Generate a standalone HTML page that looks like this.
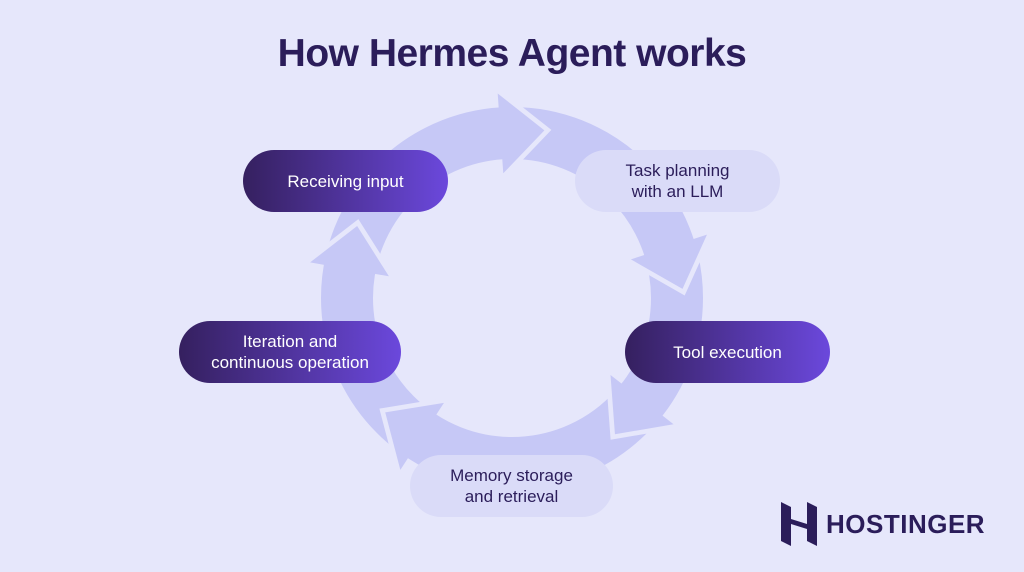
<!DOCTYPE html>
<html><head><meta charset="utf-8"><style>
html,body{margin:0;padding:0}
body{width:1024px;height:572px;background:#e6e7fb;position:relative;overflow:hidden;font-family:"Liberation Sans",sans-serif}
.t{position:absolute;left:0;width:1024px;top:32px;text-align:center;font-size:39px;font-weight:bold;color:#2b1d5a;letter-spacing:-0.5px}
.p{position:absolute;height:62px;border-radius:31px;display:flex;align-items:center;justify-content:center;text-align:center;font-size:17px;line-height:21px}
.d{background:linear-gradient(90deg,#35205f,#6b48dc);color:#fff}
.l{background:#dadbf8;color:#2b1d5a}
</style></head><body>
<div class="t">How Hermes Agent works</div>
<svg width="1024" height="572" style="position:absolute;left:0;top:0">
<circle cx="512" cy="298" r="165" fill="none" stroke="#c6c8f6" stroke-width="52"/>
<defs>
<g id="ah">
<polygon points="519,93 563,133 519,173" fill="#e6e7fb"/>
<polygon points="512,93 556,133 512,173" fill="#c6c8f6"/>
</g>
</defs>
<use href="#ah" transform="rotate(-4 512 298)"/>
<use href="#ah" transform="rotate(72 512 298)"/>
<use href="#ah" transform="rotate(128 512 298)"/>
<use href="#ah" transform="rotate(213 512 298)"/>
<use href="#ah" transform="rotate(280 512 298)"/>
</svg>
<div class="p d" style="left:243px;top:150px;width:205px">Receiving input</div>
<div class="p l" style="left:575px;top:150px;width:205px">Task planning<br>with an LLM</div>
<div class="p d" style="left:179px;top:321px;width:222px">Iteration and<br>continuous operation</div>
<div class="p d" style="left:625px;top:321px;width:205px">Tool execution</div>
<div class="p l" style="left:410px;top:455px;width:203px">Memory storage<br>and retrieval</div>
<svg width="40" height="44" style="position:absolute;left:781px;top:502px">
<polygon points="0,0 10,5 10,17 26,22 26,0 36,5 36,44 26,39 26,27 10,22 10,44 0,39" fill="#2b1d5a"/>
</svg>
<div style="position:absolute;left:826px;top:509px;font-size:26px;font-weight:bold;color:#2b1d5a;letter-spacing:0.5px">HOSTINGER</div>
</body></html>
